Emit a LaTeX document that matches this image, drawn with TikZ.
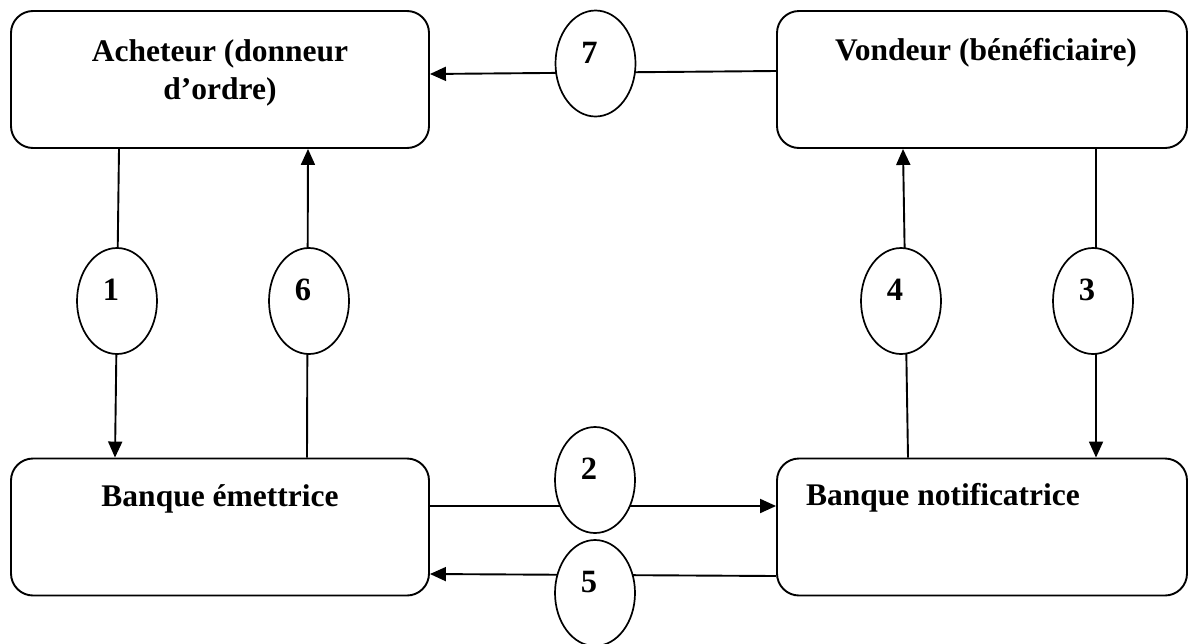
\documentclass[tikz,border=0pt]{standalone}
\usepackage{fontspec}
\setmainfont{Liberation Serif}
\usetikzlibrary{arrows.meta,shapes.geometric}
\begin{document}
\begin{tikzpicture}[x=1pt,y=-1pt,
  box/.style={draw,line width=1.9pt,rounded corners=22pt,minimum height=137pt,inner sep=0pt},
  bubble/.style={draw,ellipse,fill=white,line width=1.7pt,minimum width=80pt,minimum height=106pt,inner sep=0pt},
  lbl/.style={font=\fontsize{31.5}{38}\selectfont\bfseries,inner sep=0pt,anchor=base,align=center},
  num/.style={font=\fontsize{32.5}{38}\selectfont\bfseries,inner sep=0pt,xshift=-6pt,yshift=11pt},
  link/.style={line width=1.9pt},
  arr/.style={link,-{Triangle[length=16pt,width=14pt]}}]

\useasboundingbox (0,0) rectangle (1190,643);

% the four parties
\node[box,minimum width=418pt] (ach)   at (220,79.5) {};
\node[box,minimum width=410pt] (vend)  at (982,79.5) {};
\node[box,minimum width=418pt] (emet)  at (220,527) {};
\node[box,minimum width=410pt] (notif) at (982,527) {};

\node[lbl] (tach)   at (220,99)  {Acheteur (donneur\\d’ordre)};
\node[lbl] (tvend)  at (986,60)  {Vondeur (bénéficiaire)};
\node[lbl] (temet)  at (220,506) {Banque émettrice};
\node[lbl] (tnotif) at (943,505) {Banque notificatrice};

% flows between the parties
\draw[arr] ([yshift=8.5pt]vend.west) -- ([yshift=5.5pt]ach.east);
\draw[arr] ([xshift=-101pt]ach.south) -- ([xshift=-105pt]emet.north);
\draw[arr] ([xshift=87pt]emet.north) -- ([xshift=88pt]ach.south);
\draw[arr] ([xshift=-74pt]notif.north) -- ([xshift=-79pt]vend.south);
\draw[arr] ([xshift=114pt]vend.south) -- ([xshift=114pt]notif.north);
\draw[arr] ([yshift=21pt]emet.east) -- ([yshift=21pt]notif.west);
\draw[arr] ([yshift=-49pt]notif.west) -- ([yshift=-47pt]emet.east);

% numbered steps
\node[bubble] (e1) at (117,301)   {};
\node[bubble] (e6) at (309,301)   {};
\node[bubble] (e4) at (901,301)   {};
\node[bubble] (e3) at (1093,301)  {};
\node[bubble] (e7) at (595.5,63.5) {};
\node[bubble] (e2) at (595,480)   {};
\node[bubble] (e5) at (595,593)   {};

\node[num] (n1) at (e1) {1};
\node[num] (n6) at (e6) {6};
\node[num] (n4) at (e4) {4};
\node[num] (n3) at (e3) {3};
\node[num] (n7) at (e7) {7};
\node[num] (n2) at (e2) {2};
\node[num] (n5) at (e5) {5};
\end{tikzpicture}
\end{document}
